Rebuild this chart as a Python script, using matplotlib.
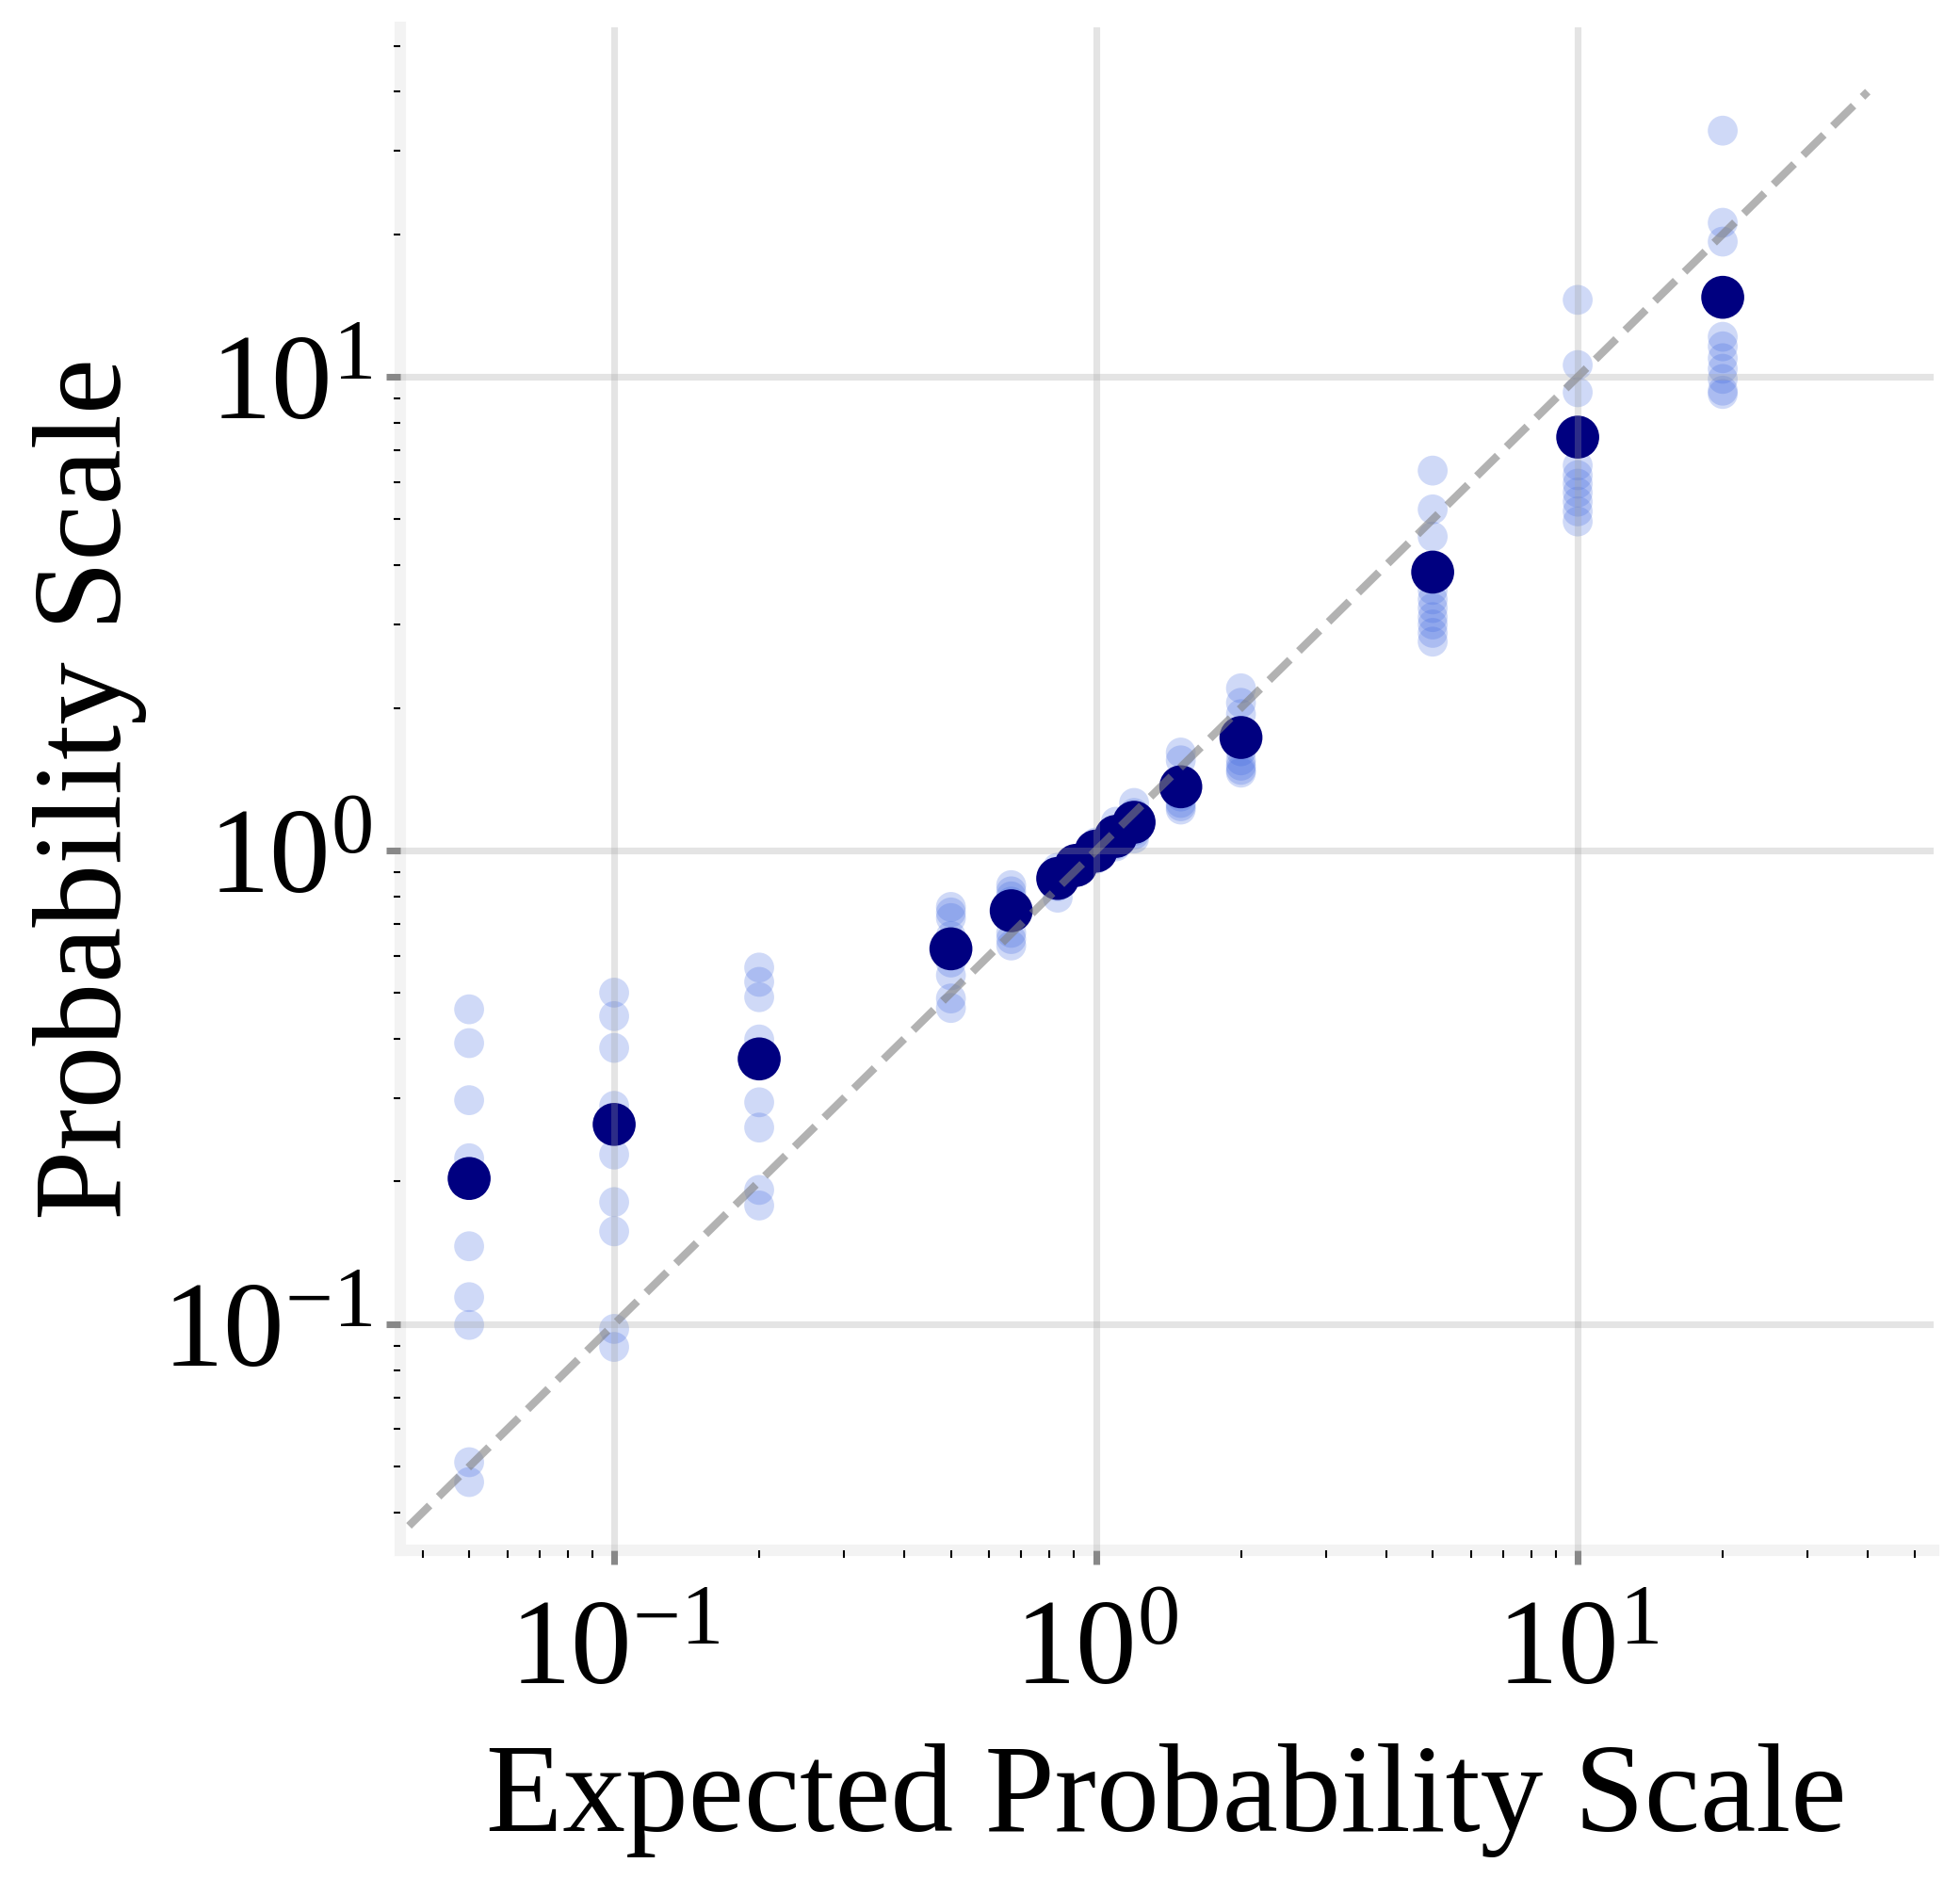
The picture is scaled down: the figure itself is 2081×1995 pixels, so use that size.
import matplotlib
matplotlib.use("Agg")
import matplotlib.pyplot as plt
import numpy as np

plt.rcParams['font.family'] = ['Liberation Serif', 'DejaVu Serif']
plt.rcParams['mathtext.fontset'] = 'stix'

# ---- data ----
x_expected = [0.05, 0.1, 0.2, 0.5, 0.667, 0.833, 0.909, 1.0, 1.1, 1.2, 1.5, 2.0, 5.0, 10.0, 20.0]
mean_observed = [0.203, 0.264, 0.363, 0.62, 0.746, 0.873, 0.93, 0.997, 1.071, 1.147,
                 1.363, 1.732, 3.87, 7.46, 14.72]

obs_0_05 = [0.462, 0.392, 0.297, 0.224, 0.198, 0.146, 0.114, 0.0996, 0.0511, 0.0464]
obs_0_1 = [0.501, 0.447, 0.383, 0.289, 0.228, 0.181, 0.157, 0.0977, 0.0895]
obs_0_2 = [0.566, 0.528, 0.490, 0.399, 0.294, 0.260, 0.192, 0.178]
obs_0_5 = [0.76, 0.74, 0.72, 0.66, 0.58, 0.545, 0.487, 0.465]
obs_0_667 = [0.845, 0.82, 0.80, 0.78, 0.74, 0.67, 0.65, 0.63]
obs_0_833 = [0.92, 0.90, 0.88, 0.86, 0.84, 0.795]
obs_0_909 = [0.96, 0.945, 0.93, 0.92, 0.91, 0.90]
obs_1_0 = [1.04, 1.02, 1.0, 0.99, 0.97, 0.96]
obs_1_1 = [1.15, 1.10, 1.07, 1.05, 1.03, 1.02]
obs_1_2 = [1.26, 1.20, 1.15, 1.10, 1.08, 1.06]
obs_1_5 = [1.61, 1.55, 1.40, 1.38, 1.30, 1.26, 1.24, 1.22]
obs_2_0 = [2.20, 2.05, 1.94, 1.62, 1.55, 1.51, 1.48, 1.46]
obs_5_0 = [6.34, 5.25, 4.60, 3.55, 3.39, 3.25, 3.11, 3.00, 2.88, 2.76]
obs_10_0 = [14.54, 10.59, 9.28, 6.50, 6.20, 5.95, 5.70, 5.45, 5.20, 4.95]
obs_20_0 = [33.1, 21.15, 19.3, 12.15, 11.6, 10.95, 10.4, 9.9, 9.35, 9.2]

observed = [obs_0_05, obs_0_1, obs_0_2, obs_0_5, obs_0_667, obs_0_833, obs_0_909,
            obs_1_0, obs_1_1, obs_1_2, obs_1_5, obs_2_0, obs_5_0, obs_10_0, obs_20_0]

diag_range = [0.0375, 40.0]
x_limits = [0.0359, 54.8]
y_limits = [0.0333, 54.7]

x_label = "Expected Probability Scale"
y_label = "Probability Scale"

# ---- figure ----
W, H, DPI = 2081, 1995, 300
fig = plt.figure(figsize=(W / DPI, H / DPI), dpi=DPI)
ax = fig.add_axes([424.5 / W, 1 - 1646 / H, (2053 - 424.5) / W, (1646 - 29) / H])

xs_light = [xe for xe, obs in zip(x_expected, observed) for _ in obs]
ys_light = [v for obs in observed for v in obs]
ax.scatter(xs_light, ys_light, s=58, color='#4169e1', alpha=0.25, edgecolors='none', zorder=1)
ax.scatter(x_expected, mean_observed, s=120, color='#000080', edgecolors='none', zorder=1.5)
ax.plot(diag_range, diag_range, linestyle='--', color='gray', alpha=0.6, lw=2, zorder=2)

ax.set_xscale('log')
ax.set_yscale('log')
ax.set_xlim(x_limits)
ax.set_ylim(y_limits)

ax.set_axisbelow(False)
ax.grid(True, which='major', color='#a0a0a0', alpha=0.28, lw=1.7)
ax.grid(False, which='minor')

for s in ['top', 'right']:
    ax.spines[s].set_visible(False)
for s in ['left', 'bottom']:
    ax.spines[s].set_color('#f3f3f3')
    ax.spines[s].set_linewidth(2.9)

ax.tick_params(which='major', length=3.5, width=1.7, color='#888888', labelsize=31)
ax.tick_params(axis='y', which='major', pad=3.5)
ax.tick_params(axis='x', which='major', pad=9)
ax.tick_params(which='minor', length=1.8, width=0.5, color='black')

ax.set_xlabel(x_label, fontsize=32, labelpad=8.5)
ax.set_ylabel(y_label, fontsize=32, labelpad=4)

fig.savefig("out.png", dpi=DPI)
